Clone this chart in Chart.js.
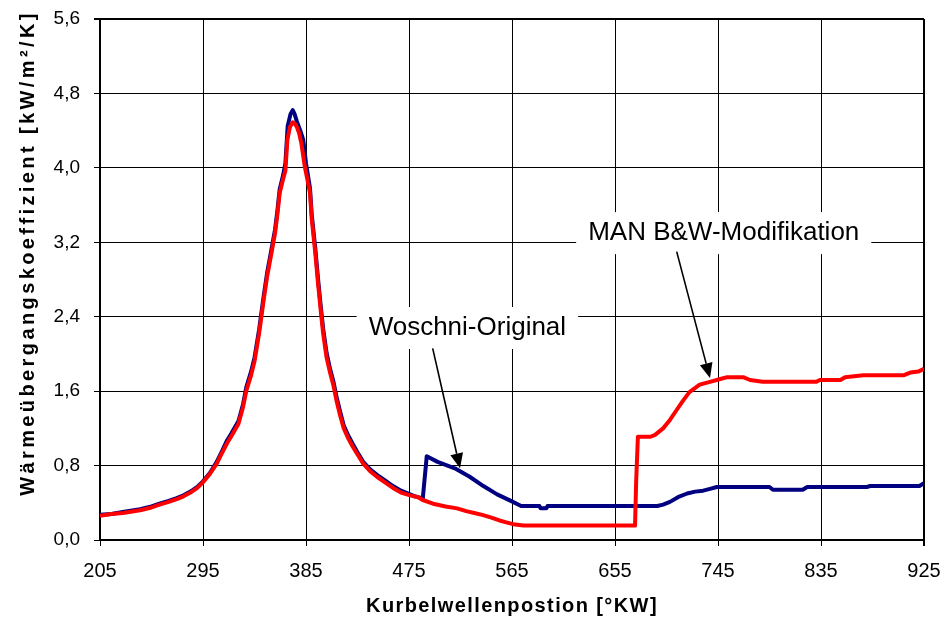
<!DOCTYPE html>
<html>
<head>
<meta charset="utf-8">
<title>Wärmeübergangskoeffizient</title>
<script src="https://cdn.jsdelivr.net/npm/chart.js@4.4.0/dist/chart.umd.min.js"></script>
<style>
  html, body { margin: 0; padding: 0; background: #fff; }
  canvas { display: block; }
</style>
</head>
<body>
<canvas id="htc" width="944" height="619"></canvas>
<script>
const FONT = "'Liberation Sans', Arial, sans-serif";

const xTicks = [205, 295, 385, 475, 565, 655, 745, 835, 925];
const yTicks = [0, 0.8, 1.6, 2.4, 3.2, 4.0, 4.8, 5.6];

// MAN B&W modification (red)
const manAngle = [205, 215, 225, 240, 250, 257, 265, 272, 278, 284, 290, 295, 301, 307, 311, 316, 320, 326, 330, 333,
  337, 340, 344, 348, 351, 354, 358, 360, 362, 365, 367, 368.7, 371, 373.4, 375, 377, 379, 381, 384, 388.5,
  390, 393, 395.5, 398, 400, 403, 406, 409, 412, 415, 418, 422, 426, 431, 435, 441, 447, 454, 461, 468,
  476, 483, 487, 496, 507, 517, 525, 532, 539, 547, 554, 560, 566, 575, 672.5, 673.5, 675, 686, 690, 697,
  703, 709, 714, 720, 729, 738, 747, 753, 767, 773, 784, 831, 834, 852, 856, 872, 907, 913, 920, 925];
const manHtc = [0.26, 0.28, 0.29, 0.32, 0.35, 0.38, 0.41, 0.44, 0.47, 0.51, 0.56, 0.62, 0.71, 0.82, 0.92, 1.04, 1.12, 1.25, 1.43, 1.61,
  1.77, 1.92, 2.22, 2.58, 2.83, 3.03, 3.30, 3.50, 3.73, 3.88, 3.97, 4.30, 4.44, 4.49, 4.48, 4.44, 4.37, 4.26, 4.01, 3.73,
  3.45, 3.10, 2.76, 2.45, 2.22, 1.96, 1.80, 1.66, 1.48, 1.33, 1.20, 1.09, 1.00, 0.90, 0.82, 0.74, 0.68, 0.62, 0.56, 0.51,
  0.48, 0.46, 0.43, 0.39, 0.36, 0.34, 0.31, 0.29, 0.27, 0.24, 0.21, 0.19, 0.17, 0.155, 0.155, 0.63, 1.11, 1.11, 1.13, 1.20,
  1.29, 1.40, 1.49, 1.59, 1.67, 1.70, 1.73, 1.75, 1.75, 1.72, 1.70, 1.70, 1.72, 1.72, 1.75, 1.77, 1.77, 1.80, 1.81, 1.84];

// Woschni original (navy)
const woschniAngle = [205, 215, 225, 240, 250, 257, 265, 272, 278, 284, 290, 295, 301, 307, 311, 316, 320, 326, 330, 333,
  337, 340, 344, 348, 351, 354, 358, 360, 362, 365, 367, 369, 371.5, 373.4, 375, 377, 380, 382.6, 385, 388.5,
  390, 393, 395.5, 398, 400, 403, 406, 409, 412, 415, 418, 422, 426, 431, 435, 441, 447, 454, 461, 468,
  476, 480, 486, 487, 490.5, 500, 515, 528, 540, 552, 564, 573, 589, 590, 595, 596, 692, 697, 703, 710,
  718, 725, 732, 738, 744, 790, 793, 819, 823, 875, 878, 921, 925];
const woschniHtc = [0.27, 0.28, 0.30, 0.33, 0.36, 0.39, 0.42, 0.45, 0.48, 0.52, 0.57, 0.63, 0.72, 0.84, 0.94, 1.07, 1.15, 1.28, 1.46, 1.65,
  1.81, 1.96, 2.26, 2.62, 2.87, 3.07, 3.34, 3.54, 3.77, 3.92, 4.05, 4.45, 4.58, 4.62, 4.58, 4.50, 4.40, 4.30, 4.05, 3.78,
  3.50, 3.15, 2.81, 2.50, 2.27, 2.01, 1.84, 1.70, 1.52, 1.37, 1.23, 1.12, 1.03, 0.92, 0.84, 0.76, 0.70, 0.64, 0.58, 0.53,
  0.49, 0.47, 0.45, 0.44, 0.90, 0.84, 0.77, 0.68, 0.58, 0.49, 0.42, 0.365, 0.365, 0.34, 0.34, 0.365, 0.365, 0.38, 0.41, 0.46,
  0.50, 0.52, 0.53, 0.55, 0.57, 0.57, 0.54, 0.54, 0.57, 0.57, 0.58, 0.58, 0.61];

const xTitle = 'Kurbelwellenpostion [°KW]';
const yTitle = 'Wärmeübergangskoeffizient [kW/m²/K]';

// callout labels with arrows, positions in axis units
const callouts = [
  { text: 'Woschni-Original', at: [526, 2.30], from: [495.7, 2.06], to: [519.6, 0.77] },
  { text: 'MAN B&W-Modifikation', at: [750, 3.32], from: [708.9, 3.10], to: [738, 1.74] },
];

function points(xs, ys) {
  return xs.map((x, i) => ({ x: x, y: ys[i] }));
}

function drawArrow(ctx, x0, y0, x1, y1) {
  const ang = Math.atan2(y1 - y0, x1 - x0);
  const len = 15, half = 6.5;
  ctx.beginPath();
  ctx.moveTo(x0, y0);
  ctx.lineTo(x1 - Math.cos(ang) * len, y1 - Math.sin(ang) * len);
  ctx.lineWidth = 1.6;
  ctx.strokeStyle = '#000';
  ctx.stroke();
  ctx.beginPath();
  ctx.moveTo(x1, y1);
  ctx.lineTo(x1 - Math.cos(ang) * len - Math.sin(ang) * half, y1 - Math.sin(ang) * len + Math.cos(ang) * half);
  ctx.lineTo(x1 - Math.cos(ang) * len + Math.sin(ang) * half, y1 - Math.sin(ang) * len - Math.cos(ang) * half);
  ctx.closePath();
  ctx.fillStyle = '#000';
  ctx.fill();
}

const decorations = {
  id: 'decorations',
  afterDatasetsDraw(chart) {
    const { ctx, chartArea } = chart;
    const xs = chart.scales.x, ys = chart.scales.y;
    ctx.save();

    ctx.font = '26px ' + FONT;
    ctx.textAlign = 'center';
    ctx.textBaseline = 'alphabetic';
    for (const c of callouts) {
      const cx = xs.getPixelForValue(c.at[0]);
      const cy = ys.getPixelForValue(c.at[1]);
      const w = ctx.measureText(c.text).width + 24;
      ctx.fillStyle = '#fff';
      ctx.fillRect(cx - w / 2, cy - 19, w, 42);
      ctx.fillStyle = '#000';
      ctx.fillText(c.text, cx, cy + 9);
      drawArrow(ctx,
        xs.getPixelForValue(c.from[0]), ys.getPixelForValue(c.from[1]),
        xs.getPixelForValue(c.to[0]), ys.getPixelForValue(c.to[1]));
    }

    // axis titles
    ctx.fillStyle = '#000';
    ctx.font = 'bold 20px ' + FONT;
    ctx.letterSpacing = '1.4px';
    ctx.fillText(xTitle, (chartArea.left + chartArea.right) / 2, 612);

    ctx.letterSpacing = '3.4px';
    ctx.translate(33.5, 253);
    ctx.rotate(-Math.PI / 2);
    ctx.fillText(yTitle, 0, 0);
    ctx.restore();
  }
};

const edgeWidth = (ctx, edges) => edges.includes(ctx.tick && ctx.tick.value) ? 2 : 1;

new Chart(document.getElementById('htc'), {
  type: 'line',
  data: {
    datasets: [
      {
        label: 'MAN B&W-Modifikation',
        data: points(manAngle, manHtc),
        borderColor: '#ff0000',
        borderWidth: 4,
        borderJoinStyle: 'round',
        pointRadius: 0,
        tension: 0,
      },
      {
        label: 'Woschni-Original',
        data: points(woschniAngle, woschniHtc),
        borderColor: '#000080',
        borderWidth: 4,
        borderJoinStyle: 'round',
        pointRadius: 0,
        tension: 0,
      },
    ],
  },
  options: {
    responsive: false,
    animation: false,
    devicePixelRatio: 1,
    layout: { padding: { left: 0, right: 20, top: 19, bottom: 0 } },
    plugins: {
      legend: { display: false },
      tooltip: { enabled: false },
    },
    scales: {
      x: {
        type: 'linear',
        min: 205,
        max: 925,
        afterBuildTicks: s => { s.ticks = xTicks.map(v => ({ value: v })); },
        afterFit: s => { s.height = 79; s.paddingLeft = 0; s.paddingRight = 0; },
        grid: {
          color: '#000',
          tickColor: '#000',
          tickLength: 6,
          lineWidth: c => edgeWidth(c, [925]),
        },
        border: { display: true, color: '#000', width: 2 },
        ticks: {
          color: '#000',
          font: { family: FONT, size: 20 },
          padding: 13,
          maxRotation: 0,
          autoSkip: false,
          callback: v => String(v),
        },
      },
      y: {
        type: 'linear',
        min: 0,
        max: 5.6,
        afterBuildTicks: s => { s.ticks = yTicks.map(v => ({ value: v })); },
        afterFit: s => { s.width = 100; s.paddingTop = 0; s.paddingBottom = 0; },
        grid: {
          color: '#000',
          tickColor: '#000',
          tickLength: 6,
          lineWidth: c => edgeWidth(c, [5.6]),
        },
        border: { display: true, color: '#000', width: 2 },
        ticks: {
          color: '#000',
          font: { family: FONT, size: 19 },
          padding: 14,
          autoSkip: false,
          callback: v => v.toFixed(1).replace('.', ','),
        },
      },
    },
  },
  plugins: [decorations],
});
</script>
</body>
</html>
